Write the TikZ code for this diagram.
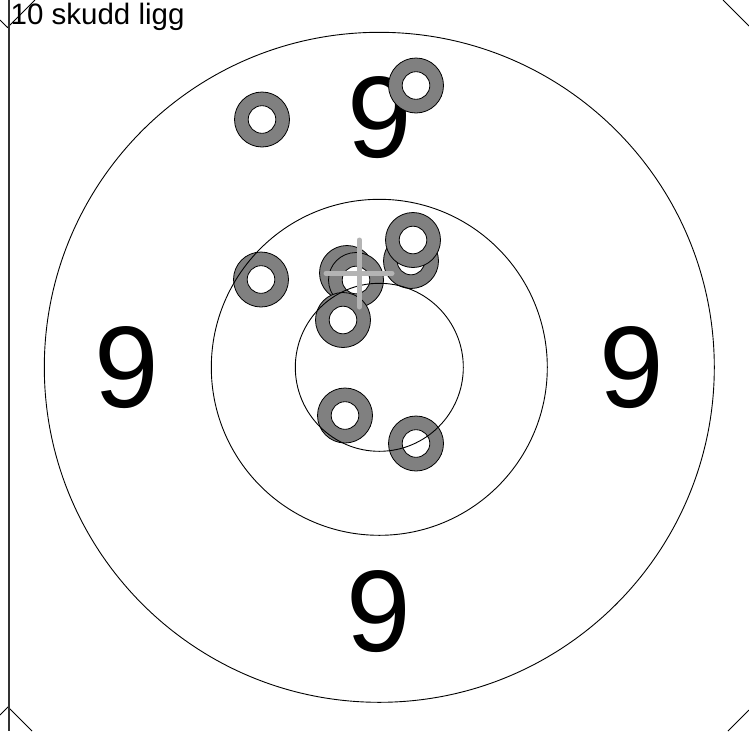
\documentclass[tikz,border=0pt]{standalone}
\usepackage{fontspec}
\setmainfont{Liberation Sans}
\begin{document}
\begin{tikzpicture}[x=1pt,y=-1pt,
  shot/.style={circle,draw=black,line width=0.8pt,fill=shotgray,minimum size=55pt,inner sep=0pt,
    path picture={\filldraw[fill=white,draw=black,line width=0.8pt] (path picture bounding box.center) circle (13.8pt);}},
  ringline/.style={draw=black,line width=0.9pt},
  bignum/.style={font=\fontsize{116}{116}\selectfont,inner sep=0pt,anchor=center},
  cornerline/.style={draw=black,line width=0.9pt}]
\definecolor{shotgray}{RGB}{128,128,128}
\definecolor{crossgray}{RGB}{180,180,180}
\useasboundingbox (0,0) rectangle (749,731);
\fill[white] (0,0) rectangle (749,731);
% corner marks
\draw[cornerline] (0,20) -- (7.5,27.5) -- (35,0);
\draw[cornerline] (0,715) -- (8,707) -- (32,731);
\draw[cornerline] (723,0) -- (749,26);
\draw[cornerline] (728,731) -- (749,710);
% left border line
\draw[line width=2pt,draw=black!80] (8.5,0) -- (8.5,731);
% title
\node[font=\fontsize{29.5}{29.5}\selectfont,anchor=base west,inner sep=0pt] (title) at (10.5,24.5) {10 skudd ligg};
% numbers
\node[bignum] (n9top) at (380,118) {9};
\node[bignum] (n9left) at (127,368) {9};
\node[bignum] (n9right) at (632,368) {9};
\node[bignum] (n9bottom) at (379,612) {9};
% shots
\node[shot] (s1) at (262,119.5) {};
\node[shot] (s2) at (416,85.5) {};
\node[shot] (s3) at (261,279.5) {};
\node[shot] (s4) at (347,273) {};
\node[shot] (s5) at (356,280) {};
\node[shot] (s6) at (411,261) {};
\node[shot] (s7) at (413,240) {};
\node[shot] (s8) at (343,320) {};
\node[shot] (s9) at (345,415.5) {};
\node[shot] (s10) at (416,443.5) {};
% rings
\coordinate (c) at (379.3,367.3);
\draw[ringline] (c) circle (335);
\draw[ringline] (c) circle (168);
\draw[ringline] (c) circle (84);
% aim cross
\coordinate (cxT) at (359.3,240);
\coordinate (cxB) at (359.3,307);
\coordinate (cxL) at (326,273.3);
\coordinate (cxR) at (392,273.3);
\draw[crossgray,line width=5pt,line cap=round] (cxT) -- (cxB);
\draw[crossgray,line width=5pt,line cap=round] (cxL) -- (cxR);
\end{tikzpicture}
\end{document}
